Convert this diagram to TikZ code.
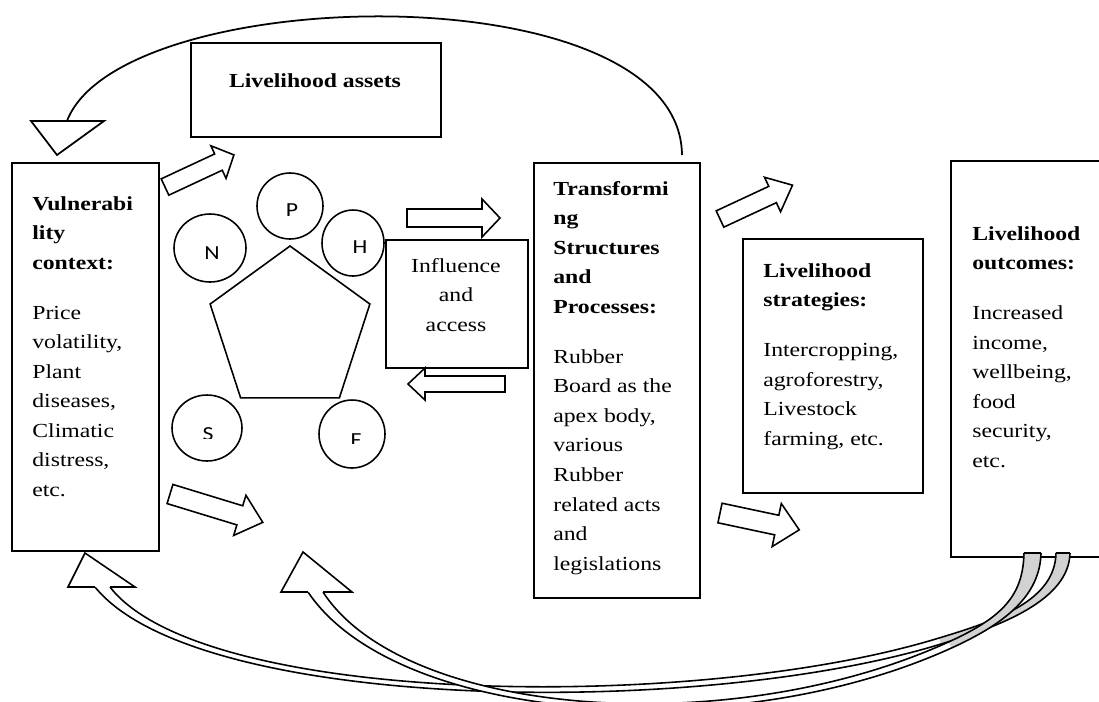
\documentclass[tikz,border=0pt]{standalone}
\usepackage{fontspec}
\setmainfont{Liberation Serif}[FakeStretch=1.19]
\newfontfamily\letterfont{Carlito}[FakeStretch=1.19]
\usetikzlibrary{positioning,shapes.geometric}

\tikzset{
	box/.style={draw, line width=1pt, anchor=north west, inner sep=0pt},
	txt/.style={anchor=north west, inner sep=0pt, align=left, font=\fontsize{11.34}{16.84}\selectfont},
	ring/.style={draw, line width=0.9pt, ellipse, inner sep=0pt},
	lett/.style={inner sep=0pt, font=\letterfont\fontsize{11.34}{13}\selectfont},
	band/.style={line width=0.9pt},
}
% hollow block arrow: tail, angle, length, half shaft, half head, head length
\newcommand{\blockarrow}[6]{%
	\begin{scope}[shift={#1}, rotate=#2]
		\draw [line width=0.9pt, fill=white] (0,-#4) -- ({#3-#6},-#4) -- ({#3-#6},-#5) -- (#3,0) -- ({#3-#6},#5) -- ({#3-#6},#4) -- (0,#4) -- cycle;
	\end{scope}}

\begin{document}
\begin{tikzpicture}[x=0.02cm, y=-0.02cm]
				\useasboundingbox (0,0) rectangle (1099,701);
				% boxes
				\node [box, minimum width=2.94cm, minimum height=7.76cm] (vul) at (11,162) {};
				\node [box, minimum width=5.00cm, minimum height=1.88cm] (assets) at (190,42) {};
				\node [box, minimum width=2.84cm, minimum height=2.56cm] (infl) at (385,239) {};
				\node [box, minimum width=3.32cm, minimum height=8.70cm] (trans) at (533,162) {};
				\node [box, minimum width=3.60cm, minimum height=5.08cm] (strat) at (742,238) {};
				\node [box, minimum width=4.00cm, minimum height=7.92cm] (outc) at (950,160) {};
				% texts
				\node [txt] (vultxt) at (32,189) {\strut\textbf{Vulnerabi}\\\textbf{lity}\\\textbf{context:}\\[11.5pt]Price\\volatility,\\Plant\\diseases,\\Climatic\\distress,\\etc.};
				\node [anchor=base, inner sep=0pt, font=\fontsize{11.34}{16.84}\selectfont\bfseries] (assetstxt) at (315,87) {Livelihood assets};
				\node [txt, anchor=north, align=center] (infltxt) at (456,251) {\strut Influence\\and\\access};
				\node [txt] (transtxt) at (553,174) {\strut\textbf{Transformi}\\\textbf{ng}\\\textbf{Structures}\\\textbf{and}\\\textbf{Processes:}\\[11.5pt]Rubber\\Board as the\\apex body,\\various\\Rubber\\related acts\\and\\legislations};
				\node [txt] (strattxt) at (763,256) {\strut\textbf{Livelihood}\\\textbf{strategies:}\\[11.5pt]Intercropping,\\agroforestry,\\Livestock\\farming, etc.};
				\node [txt] (outctxt) at (972,219) {\strut\textbf{Livelihood}\\\textbf{outcomes:}\\[11.5pt]Increased\\income,\\wellbeing,\\food\\security,\\etc.};
				% pentagon and capitals
				\node [draw, line width=0.9pt, regular polygon, regular polygon sides=5, minimum size=3.36cm, inner sep=0pt] (pent) at (290,330) {};
				\node [ring, minimum width=1.32cm, minimum height=1.32cm] (cP) at (290,206) {};   \node [lett] (lP) at (292,210) {P};
				\node [ring, minimum width=1.44cm, minimum height=1.36cm] (cN) at (210,248) {};   \node [lett] (lN) at (212,253) {N};
				\node [ring, minimum width=1.24cm, minimum height=1.32cm] (cH) at (353,243) {};   \node [lett] (lH) at (360,247) {H};
				\node [ring, minimum width=1.40cm, minimum height=1.32cm] (cS) at (207,428) {};
				\node [ring, minimum width=1.32cm, minimum height=1.36cm] (cF) at (352,434) {};
				\begin{scope} \clip (150,400) rectangle (260,438); \node [lett] (lS) at (208,434) {S}; \end{scope}
				\begin{scope} \clip (300,400) rectangle (400,443); \node [lett] (lF) at (356,440) {F}; \end{scope}
				% hollow arrows
				\blockarrow{(165,187)}{25}{76}{9}{18}{17}
				\blockarrow{(407,218)}{0}{93}{9}{19}{18}
				\blockarrow{(505,384)}{180}{97}{8}{16}{17}
				\blockarrow{(170,494)}{-17}{97}{10}{21}{24}
				\blockarrow{(720,219)}{25}{80}{9}{19}{22}
				\blockarrow{(720,513)}{-12}{81}{10}{22}{23}
				% feedback arc over the top
				\coordinate (arcA) at (682,155);  \coordinate (arcB) at (67,121);
				\draw [line width=1pt] (arcA) .. controls (680,-30) and (120,-18) .. (arcB);
				\draw [line width=1pt] (31,121) -- (104,121) -- (57,155) -- cycle;
				% curved return arrows from the outcomes
				\coordinate (twoA) at (1056,553); \coordinate (twoB) at (1070,553);
				\coordinate (twoEa) at (110,587); \coordinate (twoEb) at (95,587);
				\fill [white] (939,638) .. controls (699,712) and (203,707) .. (twoEa) -- (twoEb) .. controls (197,713) and (701,718) .. (941,644) -- cycle;
				\fill [gray!35] (twoA) .. controls (1055,600) and (999,620) .. (939,638) -- (941,644) .. controls (1001,626) and (1069,600) .. (twoB) -- cycle;
				\draw [band] (twoA) .. controls (1055,600) and (999,620) .. (939,638) .. controls (699,712) and (203,707) .. (twoEa);
				\draw [band] (twoB) .. controls (1069,600) and (1001,626) .. (941,644) .. controls (701,718) and (197,713) .. (twoEb);
				\draw [band] (twoA) -- (twoB);
				\draw [band, fill=white] (twoEa) -- (135,587) -- (85,553) -- (68,587) -- (twoEb);
				\coordinate (oneA) at (1024,553); \coordinate (oneB) at (1041,553);
				\coordinate (oneEa) at (323,592); \coordinate (oneEb) at (308,592);
				\fill [white] (948.5,642) .. controls (728.5,742) and (404,717) .. (oneEa) -- (oneEb) .. controls (396,723) and (731.5,748) .. (951.5,648) -- cycle;
				\fill [gray!35] (oneA) .. controls (1023,595) and (1003.5,617) .. (948.5,642) -- (951.5,648) .. controls (1006.5,623) and (1040,595) .. (oneB) -- cycle;
				\draw [band] (oneA) .. controls (1023,595) and (1003.5,617) .. (948.5,642) .. controls (728.5,742) and (404,717) .. (oneEa);
				\draw [band] (oneB) .. controls (1040,595) and (1006.5,623) .. (951.5,648) .. controls (731.5,748) and (396,723) .. (oneEb);
				\draw [band] (oneA) -- (oneB);
				\draw [band, fill=white] (oneEa) -- (352,592) -- (303,552) -- (281,592) -- (oneEb);
\end{tikzpicture}
\end{document}
